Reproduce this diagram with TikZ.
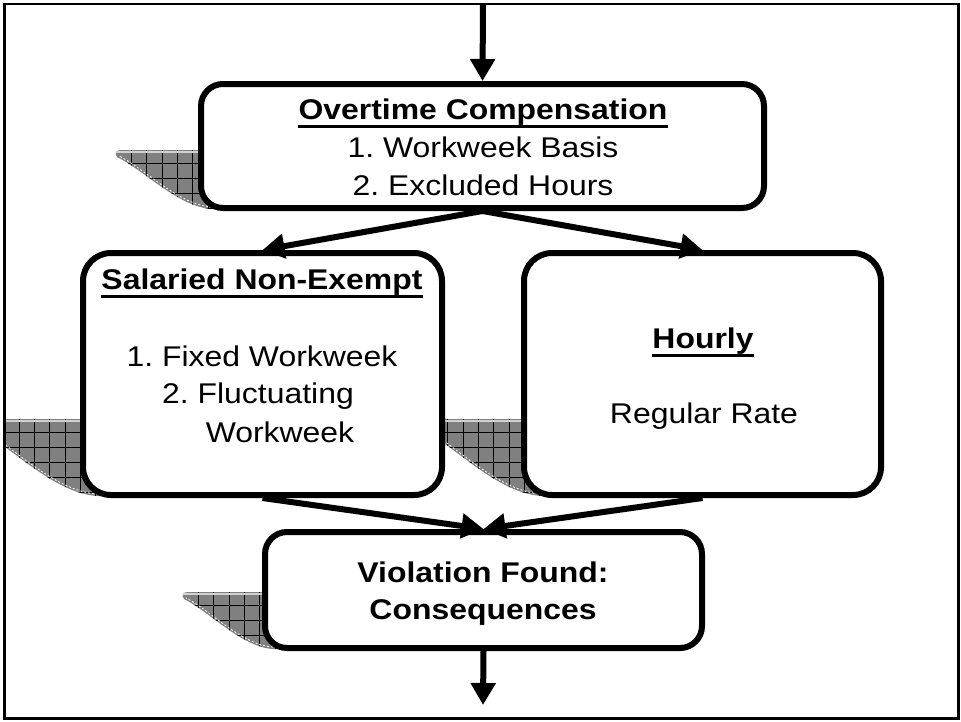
\documentclass[tikz,border=0pt]{standalone}
\usepackage{fontspec}
\setmainfont{Liberation Sans}[FakeStretch=1.12]
\usetikzlibrary{arrows.meta}
\frenchspacing

\definecolor{shadowgray}{RGB}{128,128,128}

\tikzset{
  box/.style={draw, line width=6pt, rounded corners=22pt, fill=white,
              inner sep=0pt, outer sep=3pt},
  flow/.style={line width=6pt, -{Triangle[width=24pt,length=22pt]}},
  txt/.style={anchor=base, inner sep=0pt, font=\fontsize{28.5}{38}\selectfont},
  title/.style={anchor=base, inner sep=0pt, font=\fontsize{28.5}{38}\selectfont\bfseries},
  uline/.style={line width=3pt},
  gridline/.style={black, line width=0.5pt},
  frame/.style={draw, line width=2.6pt},
}

% outline of a hatched drop shadow: tip x, top y, end x, bottom y, right x
\newcommand{\shadowoutline}[5]{(#1+5,#2) -- (#5,#2) -- (#5,#4) -- (#3,#4)
  .. controls ({#3-0.35*(#3-#1)},{#4-2}) and ({#1+0.3*(#3-#1)},{#2+0.35*(#4-#2)}) .. (#1+1,#2+7)
  .. controls (#1-2,#2+3) and (#1,#2) .. (#1+5,#2) -- cycle}

\newcommand{\hatchshadow}[5]{%
  \fill[shadowgray] \shadowoutline{#1}{#2}{#3}{#4}{#5};
  \begin{scope}
    \clip \shadowoutline{#1}{#2}{#3}{#4}{#5};
    \foreach \k in {1,...,12} {
      \draw[gridline] ({#1+\k*15.3},#2) -- ({#1+\k*15.3},#4);
      \draw[gridline] (#1,{#2-2+\k*15}) -- (#5,{#2-2+\k*15});
    }
    \draw[gray!35, line width=1.2pt] (#1,#2+2) -- (#5,#2+2);
  \end{scope}
  \draw[white, line width=0.8pt, dash pattern=on 2pt off 2pt]
    (#3,#4-2) .. controls ({#3-0.35*(#3-#1)},{#4-4}) and ({#1+0.3*(#3-#1)},{#2-2+0.35*(#4-#2)}) .. (#1+3,#2+6);
}

\begin{document}
\begin{tikzpicture}[x=1pt, y=-1pt]
  \useasboundingbox (0,0) rectangle (961,721);

  % drop shadows behind the boxes
  \begin{scope}
    \clip (4.5,4) rectangle (958.5,718.5);
    \hatchshadow{116}{150}{212}{209}{240}
    \hatchshadow{-27}{419}{98}{496}{130}
    \hatchshadow{417}{419}{542}{496}{574}
    \hatchshadow{183}{592}{273}{649}{300}
  \end{scope}

  % boxes
  \node[box, minimum width=563pt, minimum height=124pt] (ot) at (482.5,146) {};
  \node[box, minimum width=359pt, minimum height=242pt, rounded corners=28pt] (sal) at (262.5,374) {};
  \node[box, minimum width=357pt, minimum height=242pt, rounded corners=28pt] (hr) at (702.5,374) {};
  \node[box, minimum width=437pt, minimum height=116pt] (vf) at (483.5,590) {};

  % connectors
  \coordinate (start) at (483,4);
  \coordinate (finish) at (483,705);
  \draw[flow] (start) -- (ot.north);
  \draw[flow] (ot.south) -- (sal.north);
  \draw[flow] (ot.south) -- (hr.north);
  \draw[flow] (sal.south) -- (vf.north);
  \draw[flow] (hr.south) -- (vf.north);
  \draw[flow] (vf.south) -- (finish);

  % texts
  \node[title] (t1) at (483,119) {Overtime Compensation};
  \draw[uline] ([yshift=-7pt]t1.base west) -- ([yshift=-7pt]t1.base east);
  \node[txt] (t1a) at (483,157) {1. Workweek Basis};
  \node[txt] (t1b) at (483,195) {2. Excluded Hours};

  \node[title] (t2) at (262,289) {Salaried Non-Exempt};
  \draw[uline] ([yshift=-7pt]t2.base west) -- ([yshift=-7pt]t2.base east);
  \node[txt] (t2a) at (262,366) {1. Fixed Workweek};
  \node[txt] (t2b) at (258,403) {2. Fluctuating};
  \node[txt] (t2c) at (280,442) {Workweek};

  \node[title] (t3) at (703,348) {Hourly};
  \draw[uline] ([yshift=-7pt]t3.base west) -- ([yshift=-7pt]t3.base east);
  \node[txt] (t3a) at (704,423) {Regular Rate};

  \node[title] (t4) at (483,582) {Violation Found:};
  \node[title] (t4a) at (483,619) {Consequences};

  % outer frame
  \draw[frame] (4.5,4) rectangle (958.5,718.5);
\end{tikzpicture}
\end{document}
